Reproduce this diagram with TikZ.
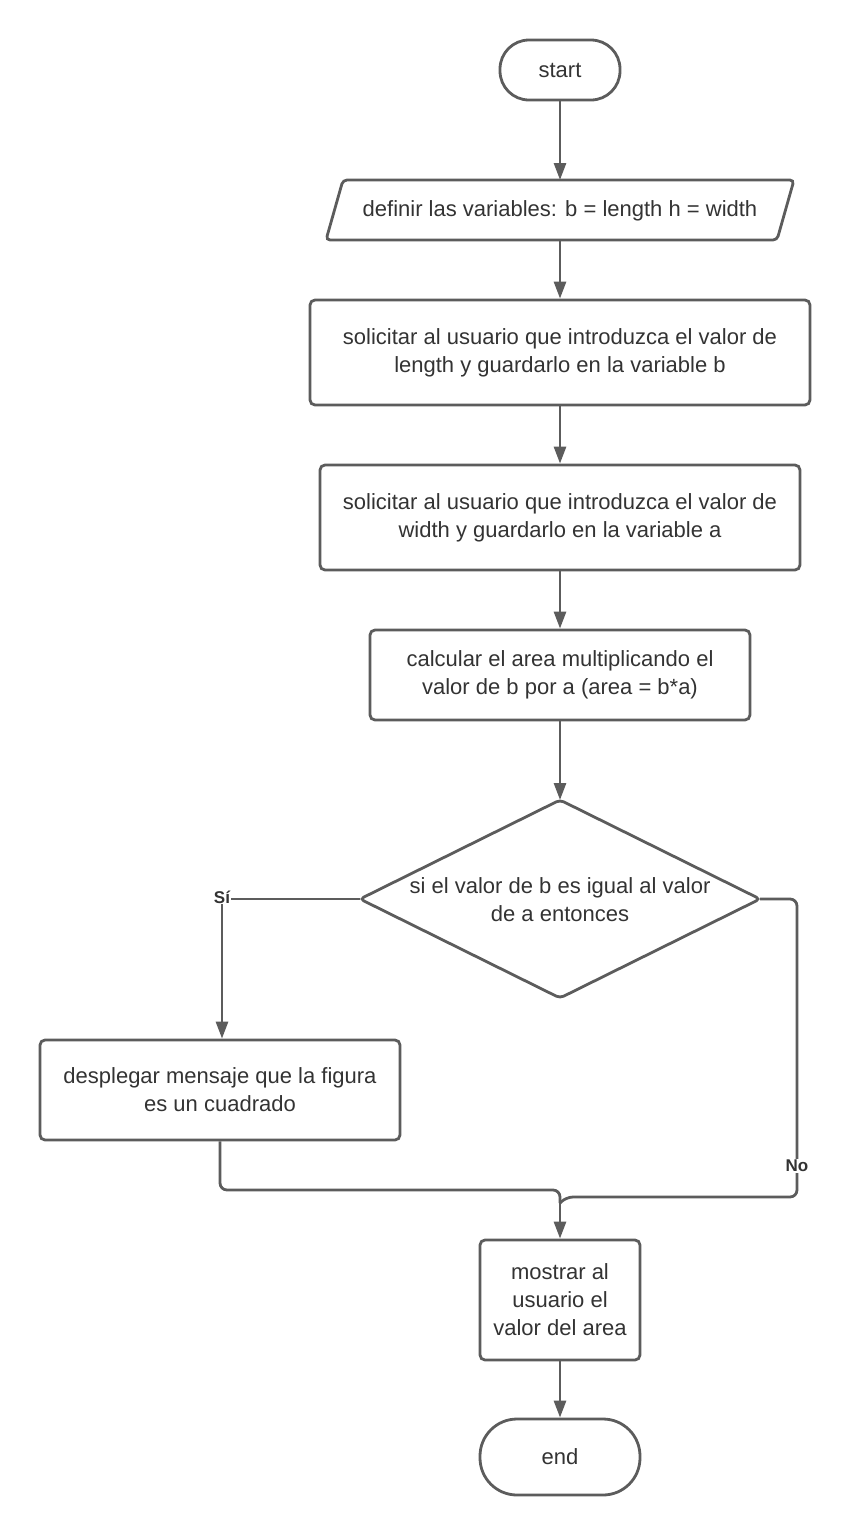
\documentclass[tikz,border=0pt]{standalone}
\usepackage{fontspec}
\setmainfont{Liberation Sans}
\usetikzlibrary{shapes.geometric,arrows.meta}
\definecolor{ln}{HTML}{5C5C5C}
\definecolor{tx}{HTML}{333333}
\begin{document}
\begin{tikzpicture}[x=1pt,y=-1pt,
  tfont/.style={font=\fontsize{22}{28}\selectfont},
  base/.style={draw=ln,line width=2.8pt,text=tx,tfont,align=center,inner sep=0pt},
  term/.style={base,rounded corners=29pt,minimum width=120pt,minimum height=60pt},
  procbox/.style={base,rounded corners=5pt},
  arr/.style={draw=ln,line width=2.8pt,-{Triangle[width=12pt,length=17pt]}},
  ln/.style={draw=ln,line width=2.8pt,rounded corners=7pt},
  lbl/.style={text=tx,font=\fontsize{17}{20}\selectfont\bfseries,inner sep=1pt,fill=white}]
\useasboundingbox (0,0) rectangle (850,1540);
\node[term] (start) at (560,70) {start};
\draw[base,rounded corners=4pt] (343,180) -- (794,180) -- (777,240) -- (326,240) -- cycle;
\node[text=tx,tfont,inner sep=0pt] (inp) at (560,211) {definir las variables: b = length h = width};
\coordinate (inpT) at (560,180);
\coordinate (inpB) at (560,240);
\node[procbox,minimum width=500pt,minimum height=105pt] (b1) at (560,352.5) {\rule{0pt}{2pt}solicitar al usuario que introduzca el valor de\\length y guardarlo en la variable b};
\node[procbox,minimum width=480pt,minimum height=105pt] (b2) at (560,517.5) {\rule{0pt}{2pt}solicitar al usuario que introduzca el valor de\\width y guardarlo en la variable a};
\node[procbox,minimum width=380pt,minimum height=90pt] (b3) at (560,675) {calcular el area multiplicando el\\valor de b por a (area = b*a)};
\draw[base,rounded corners=4pt] (560,800) -- (760,899) -- (560,998) -- (360,899) -- cycle;
\node[text=tx,tfont,align=center,inner sep=0pt] (dec) at (560,900) {si el valor de b es igual al valor\\de a entonces};
\coordinate (decL) at (360,899);
\coordinate (decR) at (760,899);
\coordinate (decT) at (560,800);
\node[procbox,minimum width=360pt,minimum height=100pt] (b4) at (220,1090) {desplegar mensaje que la figura\\es un cuadrado};
\node[procbox,minimum width=160pt,minimum height=120pt] (b5) at (560,1300) {mostrar al\\usuario el\\valor del area};
\node[term,minimum width=160pt,minimum height=76pt,rounded corners=37pt] (end) at (560,1457) {end};

\draw[arr] (start) -- (inpT);
\draw[arr] (inpB) -- (b1);
\draw[arr] (b1) -- (b2);
\draw[arr] (b2) -- (b3);
\draw[arr] (b3) -- (decT);
\coordinate (si) at (222,899);
\draw[ln] (decL) -- (si);
\draw[arr] (si) -- (b4.north -| si);
\node[lbl] (siL) at (222,897) {Sí};
\draw[ln] (decR) -- (797,899) -- (797,1197) -- (566,1197) -- (560,1203);
\node[lbl] (noL) at (797,1166) {No};
\draw[ln] (b4.south) -- (220,1190) -- (560,1190) -- (560,1203);
\draw[arr] (560,1200) -- (b5.north);
\draw[arr] (b5) -- (end);
\end{tikzpicture}
\end{document}
